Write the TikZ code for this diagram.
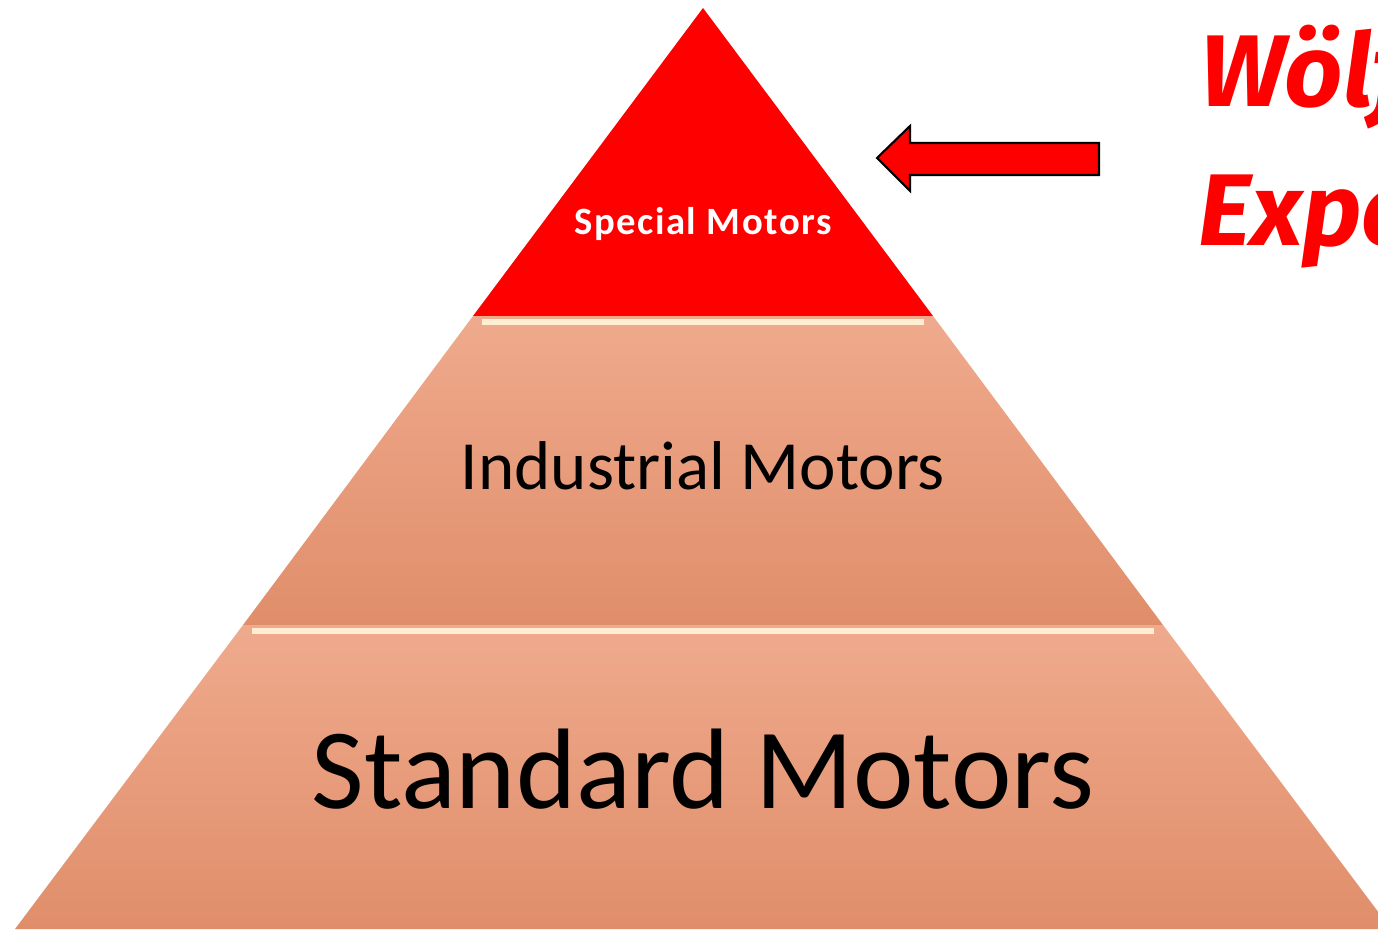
\documentclass[tikz,border=0pt]{standalone}
\usepackage{fontspec}
\setmainfont{Carlito}
\newfontfamily\handfont{Fira Sans}

\definecolor{motorred}{RGB}{255,0,0}
\definecolor{bandtop}{RGB}{239,170,141}
\definecolor{bandbot}{RGB}{224,142,106}
\definecolor{glint}{RGB}{255,238,210}

\tikzset{
  band/.style={top color=bandtop,bottom color=bandbot},
  glintline/.style={glint,line width=3.4pt},
  tiertext/.style={anchor=base,inner sep=0pt},
  handtext/.style={anchor=base west,inner sep=0pt,text=motorred,
    font=\handfont\bfseries\itshape\fontsize{58}{68}\selectfont}
}

\begin{document}
\begin{tikzpicture}[x=0.02cm,y=-0.02cm]
    \useasboundingbox (0,0) rectangle (1378,929);
    \clip (0,0) rectangle (1378,929);
    % pyramid tiers
    \fill[motorred] (703,8) -- (933,316) -- (473,316) -- cycle;
    \shade[band] (473,316) -- (933,316) -- (1163,625) -- (243,625) -- cycle;
    \shade[band] (243,625) -- (1163,625) -- (1391,929) -- (15,929) -- cycle;
    \draw[glintline] (482,322) -- (924,322);
    \draw[glintline] (252,631) -- (1154,631);
    % tier labels
    \node[tiertext,text=white,font=\bfseries\addfontfeature{LetterSpace=4}\fontsize{22}{26}\selectfont] (special) at (703,235) {Special Motors};
    \node[tiertext,font=\fontsize{39.3}{46}\selectfont] (industrial) at (703,489) {Industrial Motors};
    \node[tiertext,font=\fontsize{65.2}{78}\selectfont] (standard) at (703,808) {Standard Motors};
    % pointer to the top tier
    \draw[fill=motorred,line width=1.2pt,line join=miter] (877,158) -- (910,126) -- (910,143) -- (1099,143) -- (1099,175) -- (910,175) -- (910,191) -- cycle;
    \node[handtext] (brand) at (1200,107) {Wölfel};
    \node[handtext] (expert) at (1198,245) {Experte};
\end{tikzpicture}
\end{document}
